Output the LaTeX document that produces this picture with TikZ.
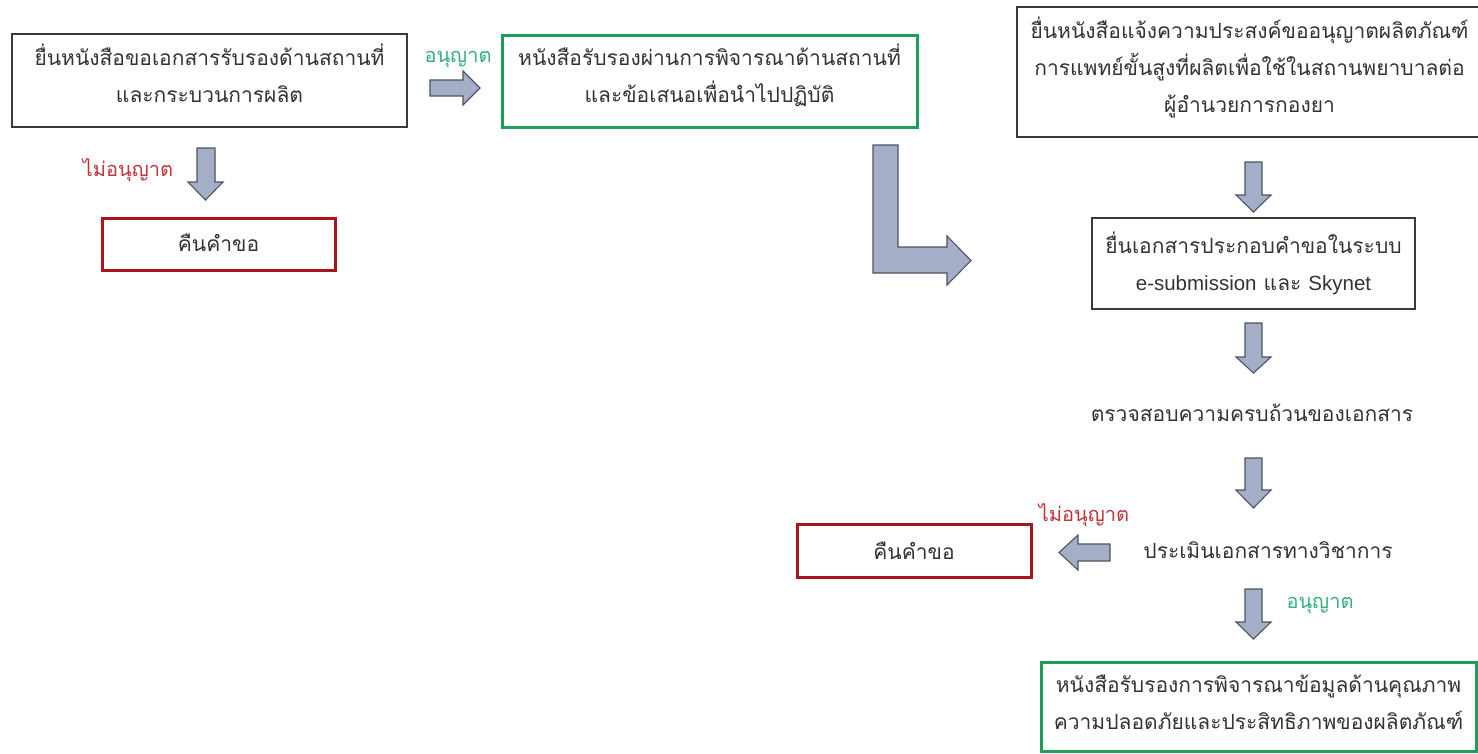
\documentclass[tikz,border=0pt]{standalone}
\usepackage{fontspec}
\setmainfont{Liberation Sans}
\newfontfamily\thai[Script=Thai]{Loma}
\newfontfamily\latinsans{Liberation Sans}
\definecolor{boxblack}{HTML}{3A3A3A}
\definecolor{boxgreen}{HTML}{1E9E5A}
\definecolor{boxred}{HTML}{A8141C}
\definecolor{txtgray}{HTML}{333333}
\definecolor{okgreen}{HTML}{35B07C}
\definecolor{nored}{HTML}{C0343C}
\definecolor{arrowfill}{HTML}{A4AEC6}
\definecolor{arrowdraw}{HTML}{4C5464}
\begin{document}
\begin{tikzpicture}[x=1pt,y=-1pt,
  txt/.style={font=\thai\fontsize{21}{37}\selectfont, text=txtgray, align=center, inner sep=0pt},
  plainbox/.style={txt, draw=boxblack, line width=1.3pt},
  greenbox/.style={txt, draw=boxgreen, line width=3pt},
  redbox/.style={txt, draw=boxred, line width=3pt},
  oklabel/.style={font=\thai\fontsize{20}{24}\selectfont, text=okgreen, inner sep=0pt},
  nolabel/.style={font=\thai\fontsize{20}{24}\selectfont, text=nored, inner sep=0pt},
  blockarrow/.style={fill=arrowfill, draw=arrowdraw, line width=1.1pt, line join=miter}]
\fill[white] (0,0) rectangle (1478,753);
\useasboundingbox (0,0) rectangle (1478,753);

% left part
\node[plainbox, minimum width=395pt, minimum height=93pt] (reqA) at (209.5,80.5) {};
\node[txt, yshift=7pt] (reqAtext) at (reqA) {ยื่นหนังสือขอเอกสารรับรองด้านสถานที่\\และกระบวนการผลิต};
\node[greenbox, minimum width=415pt, minimum height=92pt] (certB) at (709.5,81) {};
\node[txt, yshift=6pt] (certBtext) at (certB) {หนังสือรับรองผ่านการพิจารณาด้านสถานที่\\และข้อเสนอเพื่อนำไปปฏิบัติ};
\node[redbox, minimum width=233pt, minimum height=52pt] (retC) at (218.5,244) {};
\node[txt, yshift=1.5pt] (retCtext) at (retC) {คืนคำขอ};
\node[oklabel] (okA) at (458,59) {อนุญาต};
\node[nolabel] (noA) at (128,170) {ไม่อนุญาต};

% arrow A -> B
\draw[blockarrow] (430,80) -- (463,80) -- (463,71) -- (480,88) -- (463,105) -- (463,96) -- (430,96) -- cycle;
% arrow A -> C
\draw[blockarrow] (197,148) -- (215,148) -- (215,182) -- (223,182) -- (205.5,200) -- (188,182) -- (197,182) -- cycle;
% L arrow B -> right column
\draw[blockarrow] (873,145) -- (898,145) -- (898,247) -- (947,247) -- (947,236) -- (971,260.5) -- (947,285) -- (947,273) -- (873,273) -- cycle;

% right column
\node[plainbox, minimum width=465pt, minimum height=130pt] (reqD) at (1249.5,72) {};
\node[txt, yshift=5pt] (reqDtext) at (reqD) {ยื่นหนังสือแจ้งความประสงค์ขออนุญาตผลิตภัณฑ์\\การแพทย์ขั้นสูงที่ผลิตเพื่อใช้ในสถานพยาบาลต่อ\\ผู้อำนวยการกองยา};
\node[plainbox, minimum width=323pt, minimum height=91pt] (subE) at (1253.5,263.5) {};
\node[txt] (subEtext) at (subE) {ยื่นเอกสารประกอบคำขอในระบบ\\{\latinsans\fontsize{20.5}{37}\selectfont e-submission} และ {\latinsans\fontsize{20.5}{37}\selectfont Skynet}};
\node[txt] (check) at (1252,413) {ตรวจสอบความครบถ้วนของเอกสาร};
\node[txt] (assess) at (1268,550) {ประเมินเอกสารทางวิชาการ};
\node[redbox, minimum width=234pt, minimum height=53pt] (retF) at (914,550.5) {};
\node[txt] (retFtext) at (retF) {คืนคำขอ};
\node[greenbox, minimum width=435pt, minimum height=89pt] (certG) at (1258.5,706.5) {};
\node[txt, yshift=4.5pt] (certGtext) at (certG) {หนังสือรับรองการพิจารณาข้อมูลด้านคุณภาพ\\ความปลอดภัยและประสิทธิภาพของผลิตภัณฑ์};
\node[nolabel] (noF) at (1084,515) {ไม่อนุญาต};
\node[oklabel] (okG) at (1320,605) {อนุญาต};

% down arrows in right column
\foreach \t/\h/\b in {162/195/212, 323/357/373, 458/490/508, 589/622/639}{
  \draw[blockarrow] (1245,\t) -- (1262,\t) -- (1262,\h) -- (1271,\h) -- (1253.5,\b) -- (1236,\h) -- (1245,\h) -- cycle;
}
% left arrow assess -> retF
\draw[blockarrow] (1110,544) -- (1078,544) -- (1078,535) -- (1059,552.5) -- (1078,570) -- (1078,561) -- (1110,561) -- cycle;
\end{tikzpicture}
\end{document}
